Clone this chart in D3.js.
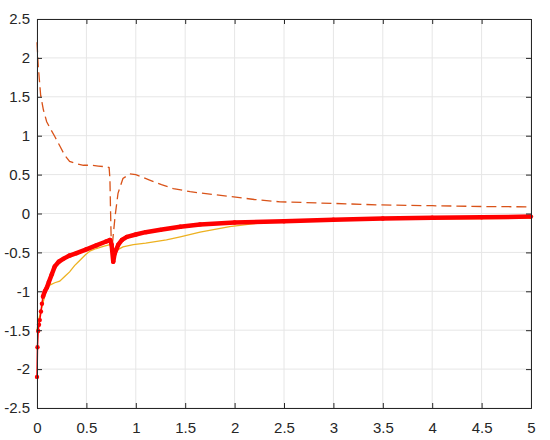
<!DOCTYPE html>
<html>
<head>
<meta charset="utf-8">
<script src="https://cdn.jsdelivr.net/npm/d3@7"></script>
<style>
	body { margin: 0; background: #fff; }
	svg text { font-family: "Liberation Sans", Arial, sans-serif; font-size: 15px; fill: #262626; }
</style>
</head>
<body>
<div id="grafika"></div>
<script>
// data
const x_ticks = [0, 0.5, 1, 1.5, 2, 2.5, 3, 3.5, 4, 4.5, 5];
const y_ticks = [-2.5, -2, -1.5, -1, -0.5, 0, 0.5, 1, 1.5, 2, 2.5];

const dashed_x = [0, 0.013, 0.037, 0.065, 0.098, 0.14, 0.18, 0.23, 0.28, 0.33, 0.4, 0.47, 0.55, 0.62, 0.7, 0.73, 0.738, 0.745, 0.752, 0.758, 0.77, 0.79, 0.82, 0.87, 0.94, 1.0, 1.14, 1.26, 1.38, 1.55, 1.75, 1.95, 2.2, 2.46, 3.0, 3.47, 4.0, 4.5, 5.0];
const dashed_y = [2.2, 1.89, 1.52, 1.33, 1.18, 1.08, 0.99, 0.87, 0.75, 0.67, 0.64, 0.62, 0.62, 0.61, 0.60, 0.59, 0.45, 0.0, -0.40, -0.47, -0.30, -0.04, 0.26, 0.45, 0.51, 0.50, 0.43, 0.37, 0.32, 0.28, 0.25, 0.22, 0.18, 0.15, 0.13, 0.11, 0.10, 0.09, 0.085];

const thin_x = [0, 0.02, 0.04, 0.065, 0.09, 0.13, 0.18, 0.23, 0.28, 0.33, 0.38, 0.435, 0.49, 0.54, 0.6, 0.68, 0.74, 0.755, 0.765, 0.78, 0.81, 0.87, 0.975, 1.1, 1.31, 1.45, 1.65, 1.95, 2.2, 2.46, 3.0, 3.47, 4.0, 4.5, 5.0];
const thin_y = [-1.5, -1.35, -1.25, -1.13, -1.0, -0.92, -0.89, -0.87, -0.81, -0.75, -0.67, -0.6, -0.53, -0.48, -0.45, -0.42, -0.40, -0.5, -0.58, -0.52, -0.47, -0.43, -0.40, -0.38, -0.34, -0.30, -0.24, -0.17, -0.13, -0.105, -0.09, -0.075, -0.07, -0.065, -0.06];

const red_x = [0, 0.005, 0.012, 0.02, 0.028, 0.04, 0.05, 0.06, 0.08, 0.1, 0.12, 0.15, 0.18, 0.22, 0.27, 0.33, 0.4, 0.5, 0.6, 0.7, 0.74, 0.755, 0.772, 0.785, 0.823, 0.86, 0.91, 1.0, 1.1, 1.25, 1.45, 1.65, 2.0, 2.5, 3.0, 3.5, 4.0, 4.5, 5.0];
const red_y = [-2.1, -1.72, -1.51, -1.43, -1.37, -1.26, -1.16, -1.07, -1.0, -0.95, -0.88, -0.78, -0.68, -0.62, -0.58, -0.54, -0.51, -0.46, -0.41, -0.36, -0.34, -0.40, -0.62, -0.52, -0.40, -0.34, -0.30, -0.27, -0.24, -0.21, -0.17, -0.14, -0.115, -0.10, -0.08, -0.065, -0.055, -0.048, -0.04];

const margins = { top: 19, right: 19, bottom: 32, left: 37 };
const width = 550, height = 440;

const x_scale = d3.scaleLinear().domain([0, 5]).range([margins.left, width - margins.right]);
const y_scale = d3.scaleLinear().domain([-2.5, 2.5]).range([height - margins.bottom, margins.top]);

const svg = d3.select("#grafika")
	.append("svg")
	.attr("width", width)
	.attr("height", height);

// grid
svg.append("g")
	.selectAll("line")
	.data(x_ticks)
	.enter()
	.append("line")
	.attr("x1", d => x_scale(d)).attr("x2", d => x_scale(d))
	.attr("y1", margins.top).attr("y2", height - margins.bottom)
	.attr("stroke", "#e6e6e6");
svg.append("g")
	.selectAll("line")
	.data(y_ticks)
	.enter()
	.append("line")
	.attr("y1", d => y_scale(d)).attr("y2", d => y_scale(d))
	.attr("x1", margins.left).attr("x2", width - margins.right)
	.attr("stroke", "#e6e6e6");

const line = (xs, ys) => d3.line()
	.x(i => x_scale(xs[i]))
	.y(i => y_scale(ys[i]))(d3.range(xs.length));

const plot = svg.append("g");

plot.append("path")
	.attr("d", line(thin_x, thin_y))
	.attr("fill", "none")
	.attr("stroke", "#EDB120")
	.attr("stroke-width", 1.3);

plot.append("path")
	.attr("d", line(dashed_x, dashed_y))
	.attr("fill", "none")
	.attr("stroke", "#D95319")
	.attr("stroke-width", 1.3)
	.attr("stroke-dasharray", "10,5");

// red: thin near the start, densely marked (thick) from x = 0.06
plot.append("path")
	.attr("d", line(red_x, red_y))
	.attr("fill", "none")
	.attr("stroke", "#ff0000")
	.attr("stroke-width", 1.5);
const dense = red_x.map((d, i) => i).filter(i => red_x[i] >= 0.06);
plot.append("path")
	.attr("d", line(dense.map(i => red_x[i]), dense.map(i => red_y[i])))
	.attr("fill", "none")
	.attr("stroke", "#ff0000")
	.attr("stroke-width", 4.5)
	.attr("stroke-linejoin", "round");
plot.selectAll("circle")
	.data(d3.range(red_x.length))
	.enter()
	.append("circle")
	.attr("cx", i => x_scale(red_x[i]))
	.attr("cy", i => y_scale(red_y[i]))
	.attr("r", 2.2)
	.attr("fill", "#ff0000");

// axes, ticks inside on all four sides
const tick_len = 5;
const x_axis = d3.axisBottom(x_scale).tickValues(x_ticks).tickSize(-tick_len).tickPadding(14).tickFormat(d3.format("~g"));
const y_axis = d3.axisLeft(y_scale).tickValues(y_ticks).tickSize(-tick_len).tickPadding(7).tickFormat(d => d3.format("~g")(d).replace("−", "-"));
const x_top = d3.axisTop(x_scale).tickValues(x_ticks).tickSize(-tick_len).tickFormat("");
const y_right = d3.axisRight(y_scale).tickValues(y_ticks).tickSize(-tick_len).tickFormat("");

const style_axis = g => {
	g.selectAll("path").attr("stroke", "#262626");
	g.selectAll("line").attr("stroke", "#262626");
	g.selectAll("text").attr("fill", "#262626").style("font-size", "15px");
};

svg.append("g").attr("class", "x axis")
	.attr("transform", `translate(0, ${height - margins.bottom})`)
	.call(x_axis).call(style_axis);
svg.append("g").attr("class", "y axis")
	.attr("transform", `translate(${margins.left}, 0)`)
	.call(y_axis).call(style_axis);
svg.append("g")
	.attr("transform", `translate(0, ${margins.top})`)
	.call(x_top).call(style_axis);
svg.append("g")
	.attr("transform", `translate(${width - margins.right}, 0)`)
	.call(y_right).call(style_axis);
</script>
</body>
</html>
